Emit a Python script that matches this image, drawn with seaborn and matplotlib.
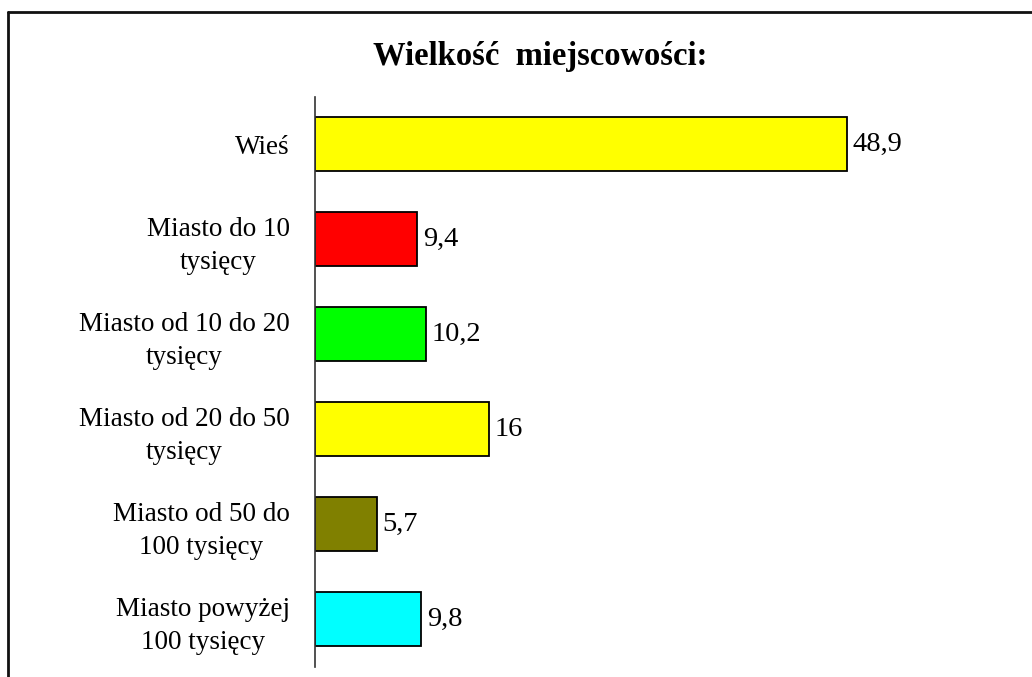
import matplotlib

matplotlib.use("Agg")

import matplotlib.pyplot as plt
import pandas as pd
import seaborn as sns
from matplotlib.lines import Line2D

categories = [
    "Wieś",
    "Miasto do 10\ntysięcy",
    "Miasto od 10 do 20\ntysięcy",
    "Miasto od 20 do 50\ntysięcy",
    "Miasto od 50 do\n100 tysięcy",
    "Miasto powyżej\n100 tysięcy",
]
values = [48.9, 9.4, 10.2, 16, 5.7, 9.8]
value_labels = ["48,9", "9,4", "10,2", "16", "5,7", "9,8"]
bar_colors = ["#FFFF00", "#FF0000", "#00FF00", "#FFFF00", "#808000", "#00FFFF"]
title = "Wielkość  miejscowości:"

sns.set_theme(style="white")
plt.rcParams["font.family"] = ["Liberation Serif", "DejaVu Serif"]
plt.rcParams["text.color"] = "black"
plt.rcParams["ytick.color"] = "black"

df = pd.DataFrame({"category": categories, "value": values})

fig = plt.figure(figsize=(10.32, 6.77), dpi=100)
ax = fig.add_axes([0.305, 0.015, 0.675, 0.842])

sns.barplot(
    data=df, x="value", y="category", hue="category", palette=bar_colors,
    orient="h", width=0.57, edgecolor="black", linewidth=1.3, legend=False,
    ax=ax, saturation=1,
)

for container, lab in zip(ax.containers, value_labels):
    ax.bar_label(container, labels=[lab], padding=4, fontsize=20.5, color="black")

ax.set_xlim(0, 64)
ax.set_ylim(len(categories) - 0.5, -0.5)
ax.set_xlabel("")
ax.set_ylabel("")
ax.set_xticks([])
ax.tick_params(axis="y", length=0, pad=18, labelsize=19.5)
for lbl in ax.get_yticklabels():
    lbl.set_multialignment("center")
    lbl.set_linespacing(1.38)

for side in ["top", "right", "bottom"]:
    ax.spines[side].set_visible(False)
ax.spines["left"].set_color("#333333")
ax.spines["left"].set_linewidth(1.2)

fig.text(0.523, 0.916, title, ha="center", va="center", fontsize=23.5, fontweight="bold")

# outer frame (cut off at right and bottom)
fig.add_artist(Line2D([0.008, 0.008], [0.0, 0.983], color="#111111", linewidth=2, transform=fig.transFigure))
fig.add_artist(Line2D([0.008, 1.0], [0.983, 0.983], color="#111111", linewidth=2, transform=fig.transFigure))

fig.savefig("out.png", dpi=100)
